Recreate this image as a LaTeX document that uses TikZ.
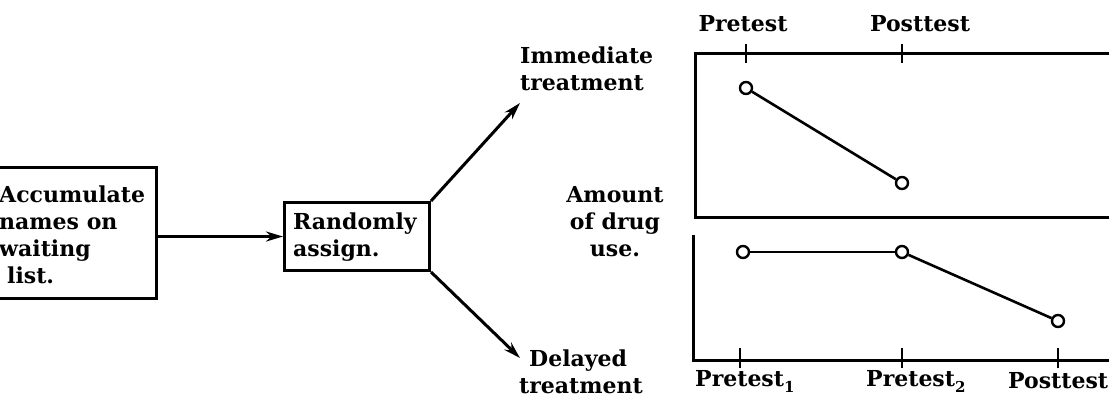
\documentclass[tikz,border=0pt]{standalone}
\usepackage{fontspec}
\setmainfont{DejaVu Serif}
\usetikzlibrary{arrows.meta}
\begin{document}
\begin{tikzpicture}[x=1pt,y=-1pt,
  txt/.style={font=\bfseries\fontsize{22}{27}\selectfont, inner sep=0pt},
  boxstyle/.style={draw, line width=3pt, inner sep=0pt},
  conn/.style={line width=3pt, -{Stealth[length=17pt,width=10pt]}},
  axis/.style={line width=3pt},
  tick/.style={line width=2.2pt},
  pt/.style={circle, draw, line width=2.4pt, minimum size=12pt, inner sep=0pt},
  dataline/.style={line width=2.6pt}]
\useasboundingbox (0,0) rectangle (1109,402);
\fill[white] (0,0) rectangle (1109,402);
% left box
\node[boxstyle, minimum width=170pt, minimum height=131pt, anchor=north east] (acc) at (158,166) {};
\node[txt, anchor=west, align=left] (acct) at (-1,235) {Accumulate\\names on\\waiting\\\hspace*{8pt}list.};
% randomly box
\node[boxstyle, minimum width=145pt, minimum height=68pt, anchor=north west] (rand) at (283,201) {};
\node[txt, anchor=west, align=left] (randt) at (293,237) {Randomly\\assign.};
\draw[conn] (acc.east |- rand.west) -- (rand.west);
% branches
\coordinate (tipA) at (520,103);
\coordinate (tipB) at (520,358);
\draw[conn] (rand.north east) -- (tipA);
\draw[conn] (rand.south east) -- (tipB);
\node[txt, anchor=west, align=left] (imm) at (520,69) {Immediate\\treatment};
\node[txt, anchor=west, align=left] (del) at (519,372) {\hspace*{10pt}Delayed\\treatment};
\node[txt, align=center] (amt) at (615,222) {Amount\\of drug\\use.};
% upper panel
\draw[axis] (1112,53) -- (695,53) -- (695,217) -- (1112,217);
\draw[tick] (746,44) -- (746,63);
\draw[tick] (902,44) -- (902,63);
\node[txt] (lpre) at (743,24) {Pretest};
\node[txt] (lpost) at (920,24) {Posttest};
\node[pt] (u1) at (746,88) {};
\node[pt] (u2) at (902,183) {};
\draw[dataline] (u1) -- (u2);
% lower panel
\draw[axis] (693,235) -- (693,360) -- (1112,360);
\draw[tick] (740,348) -- (740,368);
\draw[tick] (902,348) -- (902,368);
\draw[tick] (1058,348) -- (1058,368);
\node[pt] (d1) at (743,252) {};
\node[pt] (d2) at (902,252) {};
\node[pt] (d3) at (1058,321) {};
\draw[dataline] (d1) -- (d2);
\draw[dataline] (d2) -- (d3);
\node[txt, anchor=west] (lp1) at (695,381) {Pretest\raisebox{-6pt}{\fontsize{15}{15}\selectfont 1}};
\node[txt, anchor=west] (lp2) at (866,381) {Pretest\raisebox{-6pt}{\fontsize{15}{15}\selectfont 2}};
\node[txt, anchor=west] (lp3) at (1008,381) {Posttest};
\end{tikzpicture}
\end{document}
